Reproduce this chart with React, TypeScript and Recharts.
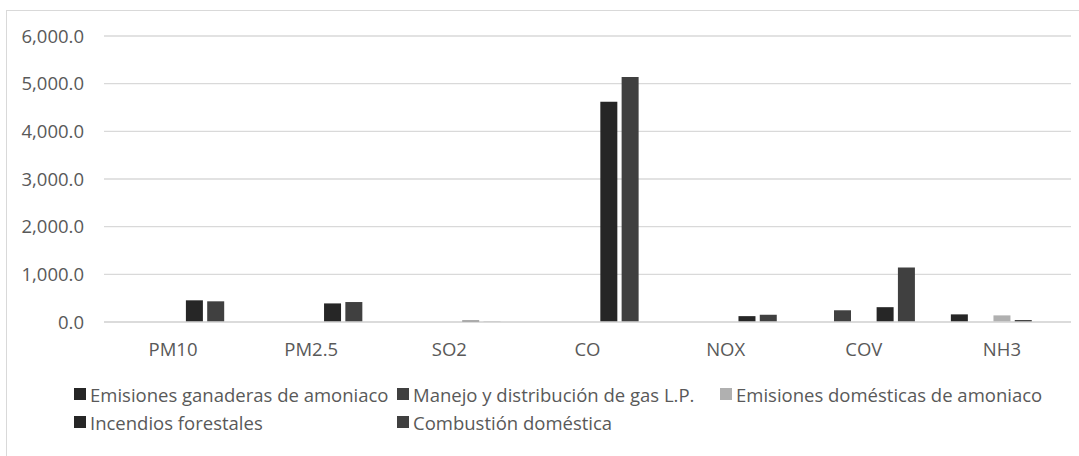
import React from 'react';
import { BarChart, Bar, XAxis, YAxis, CartesianGrid } from 'recharts';

// pollutant categories on the x axis
const categories = ['PM10', 'PM2.5', 'SO2', 'CO', 'NOX', 'COV', 'NH3'];

// emissions per source
const ganaderas = [0, 0, 0, 0, 0, 0, 160];
const manejoGas = [0, 0, 0, 0, 0, 246, 0];
const domesticasAmoniaco = [0, 0, 0, 0, 0, 0, 139];
const incendios = [455, 390, 29, 4620, 123, 311, 39];
const combustion = [434, 419, 6, 5140, 152, 1142, 0];

const yTicks = [0, 1000, 2000, 3000, 4000, 5000, 6000];

const series = [
  { key: 'ganaderas', name: 'Emisiones ganaderas de amoniaco', values: ganaderas, color: '#262626' },
  { key: 'manejoGas', name: 'Manejo y distribución de gas L.P.', values: manejoGas, color: '#404040' },
  { key: 'domesticasAmoniaco', name: 'Emisiones domésticas de amoniaco', values: domesticasAmoniaco, color: '#b0b0b0' },
  { key: 'incendios', name: 'Incendios forestales', values: incendios, color: '#262626' },
  { key: 'combustion', name: 'Combustión doméstica', values: combustion, color: '#404040' },
];

const rows = categories.map((c, i) => {
  const row: Record<string, string | number> = { category: c };
  series.forEach((s) => {
    row[s.key] = s.values[i];
  });
  return row;
});

const FONT = '"Open Sans", "Noto Sans", sans-serif';
const TEXT = '#595959';
const GRID = '#d9d9d9';

const fmt = (v: number) =>
  v.toLocaleString('en-US', { minimumFractionDigits: 1, maximumFractionDigits: 1 });

function LegendBlock() {
  return (
    <div
      style={{
        position: 'absolute',
        left: 74,
        top: 380,
        display: 'grid',
        gridTemplateColumns: 'repeat(3, 323px)',
        gridAutoRows: '28px',
        fontFamily: FONT,
        fontSize: 18.5,
        color: TEXT,
      }}
    >
      {series.map((s) => (
        <div key={s.key} style={{ display: 'flex', alignItems: 'center', whiteSpace: 'nowrap' }}>
          <span style={{ width: 12, height: 12, background: s.color, marginRight: 4, flex: 'none' }} />
          <span>{s.name}</span>
        </div>
      ))}
    </div>
  );
}

export default function App() {
  return (
    <div
      style={{
        position: 'absolute',
        left: 0,
        top: 0,
        width: 1079,
        height: 456,
        overflow: 'hidden',
        background: '#fff',
      }}
    >
      {/* chart area border, right and bottom edges fall outside the picture */}
      <div
        style={{
          position: 'absolute',
          left: 6,
          top: 10,
          width: 1100,
          height: 480,
          border: `1px solid ${GRID}`,
        }}
      />
      <div style={{ position: 'absolute', left: 0, top: 0 }}>
        <BarChart
          width={1079}
          height={456}
          data={rows}
          margin={{ top: 36, right: 8, bottom: 104, left: 0 }}
          barSize={17}
          barGap={4.3}
        >
          <CartesianGrid vertical={false} stroke={GRID} strokeWidth={1.3} />
          <XAxis
            dataKey="category"
            height={30}
            tickLine={false}
            axisLine={{ stroke: GRID, strokeWidth: 1.3 }}
            tickSize={0}
            tickMargin={21}
            tick={{ fill: TEXT, fontFamily: FONT, fontSize: 18.5 }}
            interval={0}
          />
          <YAxis
            width={104}
            domain={[0, 6000]}
            ticks={yTicks}
            tickFormatter={fmt}
            axisLine={false}
            tickLine={false}
            tickSize={0}
            tickMargin={20}
            tick={{ fill: TEXT, fontFamily: FONT, fontSize: 18.5 }}
          />
          {series.map((s) => (
            <Bar key={s.key} dataKey={s.key} name={s.name} fill={s.color} isAnimationActive={false} />
          ))}
        </BarChart>
      </div>
      <LegendBlock />
    </div>
  );
}
